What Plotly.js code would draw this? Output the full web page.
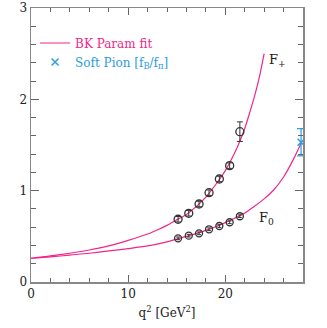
<!DOCTYPE html>
<html>
<head>
<meta charset="utf-8">
<script src="https://cdn.plot.ly/plotly-3.0.1.min.js"></script>
<style>
  html, body { margin: 0; padding: 0; background: #fff; }
  #chart { width: 327px; height: 328px; }
</style>
</head>
<body>
<div id="chart"></div>
<script>
// lattice points
const latticeQ2   = [15.14, 16.24, 17.3, 18.33, 19.39, 20.45, 21.5];
const fPlus       = [0.687, 0.752, 0.854, 0.978, 1.128, 1.274, 1.646];
const fPlusErr    = [0.03, 0.03, 0.03, 0.03, 0.03, 0.03, 0.107];
const fZero       = [0.478, 0.507, 0.533, 0.577, 0.613, 0.654, 0.72];
const fZeroErr    = [0.015, 0.015, 0.015, 0.015, 0.015, 0.015, 0.015];

// BK fit curves
const fitPlusQ2   = [0, 2, 4, 6, 8, 10, 12, 13, 14, 15, 16, 17, 18, 19, 20, 21, 21.5, 22, 22.5, 23, 23.5, 24];
const fitPlus     = [0.26, 0.285, 0.315, 0.35, 0.395, 0.455, 0.525, 0.57, 0.62, 0.68, 0.74, 0.825, 0.93, 1.065, 1.22, 1.42, 1.54, 1.68, 1.85, 2.03, 2.24, 2.50];
const fitZeroQ2   = [0, 2, 4, 6, 8, 10, 12, 14, 15, 16, 17, 18, 19, 20, 21, 22, 23, 24, 25, 26, 27, 27.9];
const fitZero     = [0.26, 0.275, 0.295, 0.315, 0.34, 0.365, 0.395, 0.44, 0.47, 0.50, 0.53, 0.565, 0.605, 0.65, 0.70, 0.755, 0.83, 0.91, 1.01, 1.15, 1.34, 1.54];

// soft pion point
const softQ2  = [27.8];
const softVal = [1.53];
const softErr = [0.15];

const pink = '#f0268a';
const blue = '#2b9de0';
const ink  = '#333333';
const serif = 'DejaVu Serif, serif';

const traces = [
  {
    x: fitPlusQ2, y: fitPlus, type: 'scatter', mode: 'lines',
    line: { color: pink, width: 1.2, shape: 'spline', smoothing: 0.8 },
    name: 'BK Param fit', showlegend: true, legend: 'legend',
  },
  {
    x: fitZeroQ2, y: fitZero, type: 'scatter', mode: 'lines',
    line: { color: pink, width: 1.2, shape: 'spline', smoothing: 0.8 },
    showlegend: false,
  },
  {
    x: latticeQ2, y: fPlus, type: 'scatter', mode: 'markers',
    marker: { symbol: 'circle-open', size: 8, color: ink, line: { width: 1.3, color: ink } },
    error_y: { type: 'data', array: fPlusErr, color: ink, thickness: 1, width: 3 },
    showlegend: false,
  },
  {
    x: latticeQ2, y: fZero, type: 'scatter', mode: 'markers',
    marker: { symbol: 'circle-open', size: 7, color: ink, line: { width: 1.3, color: ink } },
    error_y: { type: 'data', array: fZeroErr, color: ink, thickness: 1, width: 2 },
    showlegend: false,
  },
  {
    x: softQ2, y: softVal, type: 'scatter', mode: 'markers',
    marker: { symbol: 'x-thin-open', size: 7, color: blue, line: { width: 1.5, color: blue } },
    error_y: { type: 'data', array: softErr, color: blue, thickness: 1.2, width: 4 },
    name: 'Soft Pion [f<sub>B</sub>/f<sub>π</sub>]', showlegend: true, legend: 'legend2',
    cliponaxis: false,
  },
];

const axisCommon = {
  showgrid: false, zeroline: false,
  showline: true, linecolor: '#888', linewidth: 1.5, mirror: 'allticks',
  ticks: 'inside', tickcolor: '#666', tickwidth: 1.2, ticklen: 7,
  tickfont: { family: serif, size: 12, color: '#222' },
};

const legendCommon = {
  xanchor: 'left', yanchor: 'middle',
  bgcolor: 'rgba(0,0,0,0)', borderwidth: 0,
};

const layout = {
  width: 327, height: 328,
  margin: { l: 31, r: 24, t: 8, b: 46 },
  paper_bgcolor: '#fff', plot_bgcolor: '#fff',
  font: { family: serif, size: 12, color: '#222' },
  showlegend: true,
  legend: Object.assign({}, legendCommon, {
    x: 0.015, y: (282 - 43) / 274,
    font: { family: serif, size: 12, color: pink },
  }),
  legend2: Object.assign({}, legendCommon, {
    x: 0.015, y: (282 - 62) / 274,
    font: { family: serif, size: 12, color: blue },
  }),
  xaxis: Object.assign({}, axisCommon, {
    range: [0, 28], dtick: 10, tick0: 0,
    minor: { dtick: 2, ticks: 'inside', ticklen: 4, tickcolor: '#666', tickwidth: 1 },
    title: { text: 'q<sup>2</sup> [GeV<sup>2</sup>]', standoff: 8, font: { size: 12 } },
  }),
  yaxis: Object.assign({}, axisCommon, {
    range: [0, 3], dtick: 1, tick0: 0, ticklen: 8,
    minor: { dtick: 0.2, ticks: 'inside', ticklen: 5, tickcolor: '#666', tickwidth: 1 },
  }),
  annotations: [
    { x: 24.3, y: 2.42, xref: 'x', yref: 'y', text: 'F<sub>+</sub>', showarrow: false,
      xanchor: 'left', yanchor: 'middle', font: { size: 13, color: '#222' } },
    { x: 23.3, y: 0.69, xref: 'x', yref: 'y', text: 'F<sub>0</sub>', showarrow: false,
      xanchor: 'left', yanchor: 'middle', font: { size: 13, color: '#222' } },
  ],
};

Plotly.newPlot('chart', traces, layout, { displayModeBar: false, staticPlot: true });
</script>
</body>
</html>
